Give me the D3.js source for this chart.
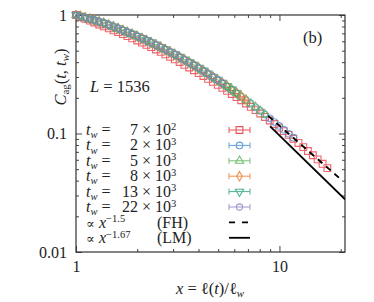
<!DOCTYPE html>
<html>
<head>
<meta charset="utf-8">
<script src="https://cdn.jsdelivr.net/npm/d3@7"></script>
<style>
  body { margin: 0; background: #fff; }
  text { font-family: 'Liberation Serif', 'DejaVu Serif', serif; fill: #222; }
</style>
</head>
<body>
<svg id="chart" width="374" height="302"></svg>
<script>
// x = l(t)/l_w, shared grid, each series stops where its run ends
const xGrid = [1.00, 1.05, 1.11, 1.17, 1.23, 1.30, 1.37, 1.45, 1.53, 1.61, 1.70, 1.79, 1.89, 2.00, 2.11, 2.22,
  2.34, 2.47, 2.61, 2.75, 2.90, 3.06, 3.23, 3.41, 3.60, 3.80, 4.01, 4.23, 4.46, 4.71, 4.97, 5.24, 5.53, 5.83,
  6.15, 6.49, 6.85, 7.23, 7.63, 8.05, 8.49, 8.96, 9.45, 9.97, 10.5, 11.1, 11.7, 12.4, 13.1, 13.8, 14.6, 15.4,
  16.3, 17.2];

const tw700 = [1.000, 0.967, 0.930, 0.896, 0.865, 0.832, 0.802, 0.771, 0.743, 0.717, 0.689, 0.663, 0.636, 0.609,
  0.584, 0.560, 0.536, 0.512, 0.488, 0.466, 0.444, 0.422, 0.401, 0.380, 0.361, 0.342, 0.3235, 0.306, 0.289,
  0.2725, 0.257, 0.2427, 0.2288, 0.2157, 0.2030, 0.1909, 0.1792, 0.1680, 0.1574, 0.1474, 0.1379, 0.1288,
  0.1203, 0.1122, 0.1048, 0.0973, 0.0903, 0.0832, 0.0768, 0.0712, 0.0655, 0.0605, 0.0555, 0.0510];
const tw2k = [1.000, 0.978, 0.952, 0.927, 0.904, 0.875, 0.850, 0.820, 0.792, 0.766, 0.739, 0.712, 0.685, 0.658,
  0.631, 0.607, 0.582, 0.557, 0.531, 0.508, 0.484, 0.462, 0.439, 0.417, 0.396, 0.375, 0.3546, 0.3354, 0.3170,
  0.2981, 0.2811, 0.2643, 0.2486, 0.2333, 0.2186, 0.2045, 0.1911, 0.1784, 0.1664, 0.1550, 0.1445, 0.1342,
  0.1249, 0.1159, 0.1077, 0.0995, 0.0922];
const tw5k = [1.000, 0.978, 0.953, 0.929, 0.906, 0.878, 0.854, 0.824, 0.796, 0.770, 0.743, 0.716, 0.689, 0.662,
  0.635, 0.611, 0.586, 0.561, 0.535, 0.511, 0.487, 0.465, 0.441, 0.420, 0.398, 0.377, 0.3567, 0.3374, 0.3189,
  0.3000, 0.2828, 0.2659, 0.2501, 0.2347, 0.2199, 0.2057, 0.1922, 0.1795, 0.1674, 0.1559, 0.1453];
const tw8k = [1.000, 0.979, 0.954, 0.931, 0.909, 0.881, 0.857, 0.827, 0.799, 0.773, 0.746, 0.719, 0.692, 0.665,
  0.638, 0.613, 0.588, 0.563, 0.536, 0.513, 0.489, 0.467, 0.443, 0.421, 0.400, 0.379, 0.358, 0.3388, 0.3202,
  0.3011, 0.2839, 0.2669, 0.2511, 0.2356, 0.2208, 0.2065, 0.1930];
const tw13k = [1.000, 0.979, 0.955, 0.932, 0.910, 0.883, 0.859, 0.829, 0.801, 0.775, 0.748, 0.721, 0.694, 0.667,
  0.640, 0.615, 0.590, 0.565, 0.538, 0.515, 0.490, 0.468, 0.444, 0.422, 0.401, 0.380, 0.359, 0.3398, 0.3211,
  0.3021, 0.2848, 0.2677, 0.2518, 0.2363, 0.2214];
const tw22k = [1.000, 0.980, 0.956, 0.933, 0.912, 0.885, 0.861, 0.831, 0.803, 0.777, 0.750, 0.723, 0.696, 0.668,
  0.641, 0.617, 0.591, 0.566, 0.539, 0.516, 0.492, 0.469, 0.446, 0.424, 0.402, 0.381, 0.360, 0.3407, 0.3221,
  0.3030, 0.2856, 0.2685];

const seriesValues = [tw700, tw2k, tw5k, tw8k, tw13k, tw22k];
const twMantissa = ['7', '2', '5', '8', '13', '22'];
const twExponent = ['2', '3', '3', '3', '3', '3'];
const seriesColors = ['#e8333b', '#4a8fd1', '#5bb55b', '#ee7d2d', '#2fa57c', '#8c86c8'];
const seriesSymbols = ['square', 'circle', 'triangle', 'diamond', 'triangleDown', 'pentagon'];

// power laws: amplitude, exponent, x range
const fhLaw = { amp: 3.68, exponent: -1.5, from: 8.8, to: 19.6 };
const lmLaw = { amp: 4.5, exponent: -1.67, from: 9.0, to: 21 };

const xMajor = [1, 10], xMinor = [2, 3, 4, 5, 6, 7, 8, 9, 20];
const yMajor = [0.01, 0.1, 1];
const yMinor = [0.02, 0.03, 0.04, 0.05, 0.06, 0.07, 0.08, 0.09, 0.2, 0.3, 0.4, 0.5, 0.6, 0.7, 0.8, 0.9];

let svg = d3.select('#chart');
let plot = { left: 76, right: 345, top: 15, bottom: 252 };

let x = d3.scaleLog().domain([1, 21]).range([plot.left, plot.right]);
let y = d3.scaleLog().domain([0.01, 1]).range([plot.bottom, plot.top]);

// ticks point inward on all four sides
function drawTicks(axisFn, scale, values, size, transform, labels) {
  let g = svg.append('g').attr('transform', transform)
    .call(axisFn(scale).tickValues(values).tickSizeInner(-size).tickSizeOuter(0).tickPadding(9)
      .tickFormat(labels ? d => String(d) : () => ''));
  g.select('.domain').remove();
  g.selectAll('line').attr('stroke', '#444');
  g.selectAll('text').style('font-size', '16px').style('font-family', "'Liberation Serif', serif").attr('fill', '#222');
  return g;
}

drawTicks(d3.axisBottom, x, xMajor, 6, `translate(0,${plot.bottom})`, true);
drawTicks(d3.axisBottom, x, xMinor, 3, `translate(0,${plot.bottom})`, false);
drawTicks(d3.axisTop, x, xMajor, 6, `translate(0,${plot.top})`, false);
drawTicks(d3.axisTop, x, xMinor, 3, `translate(0,${plot.top})`, false);
drawTicks(d3.axisLeft, y, yMajor, 6, `translate(${plot.left},0)`, true);
drawTicks(d3.axisLeft, y, yMinor, 3, `translate(${plot.left},0)`, false);
drawTicks(d3.axisRight, y, yMajor, 6, `translate(${plot.right},0)`, false);
drawTicks(d3.axisRight, y, yMinor, 3, `translate(${plot.right},0)`, false);

svg.append('rect')
  .attr('x', plot.left).attr('y', plot.top)
  .attr('width', plot.right - plot.left).attr('height', plot.bottom - plot.top)
  .attr('fill', 'none').attr('stroke', '#333').attr('stroke-width', 1.2);

let symbolPath = {
  square: d3.symbol().type(d3.symbolSquare).size(46)(),
  circle: d3.symbol().type(d3.symbolCircle).size(34)(),
  triangle: d3.symbol().type(d3.symbolTriangle).size(30)(),
  diamond: d3.symbol().type(d3.symbolDiamond).size(26)(),
  triangleDown: d3.symbol().type(d3.symbolTriangle).size(30)(),
  pentagon: d3.symbol().type(d3.symbolCircle).size(30)()
};

function marker(g, kind, color) {
  return g.append('path')
    .attr('d', symbolPath[kind])
    .attr('transform', kind === 'triangleDown' ? 'rotate(180)' : null)
    .attr('fill', 'none')
    .attr('stroke', color)
    .attr('stroke-width', 1.1);
}

svg.append('clipPath').attr('id', 'clip').append('rect')
  .attr('x', plot.left - 5).attr('y', plot.top - 5)
  .attr('width', plot.right - plot.left + 5).attr('height', plot.bottom - plot.top + 5);

let dataLayer = svg.append('g').attr('clip-path', 'url(#clip)');

seriesValues.forEach((vals, i) => {
  let pts = vals.map((v, k) => ({ x: xGrid[k], y: v }));
  let g = dataLayer.append('g').attr('opacity', 0.75);
  pts.forEach(p => {
    let m = g.append('g').attr('transform', `translate(${x(p.x)},${y(p.y)})`);
    marker(m, seriesSymbols[i], seriesColors[i]);
  });
});

// power-law guides
[fhLaw, lmLaw].forEach((law, i) => {
  let xs = [law.from, law.to];
  dataLayer.append('line')
    .attr('x1', x(xs[0])).attr('y1', y(law.amp * Math.pow(xs[0], law.exponent)))
    .attr('x2', x(xs[1])).attr('y2', y(law.amp * Math.pow(xs[1], law.exponent)))
    .attr('stroke', '#000')
    .attr('stroke-width', 1.8)
    .attr('stroke-dasharray', i === 0 ? '6,5' : null);
});

// text with sub/superscripts built from tspans
function mathText(parent, px, py, parts, size, anchor) {
  let t = parent.append('text').attr('x', px).attr('y', py)
    .style('font-size', size + 'px')
    .attr('text-anchor', anchor || 'start');
  let shift = 0;
  parts.forEach(p => {
    let target = p.sub ? size * 0.2 : p.sup ? -size * 0.34 : 0;
    let s = t.append('tspan').text(p.t).attr('dy', target - shift);
    shift = target;
    if (p.sub || p.sup) s.style('font-size', (size * 0.66) + 'px');
    if (p.i) s.style('font-style', 'italic');
  });
  return t;
}

let fs = 16;

// legend
let rowY0 = 130, rowStep = 15.4, sampleX = 239.5;
seriesValues.forEach((vals, i) => {
  let cy = rowY0 + i * rowStep, base = cy + 5;
  mathText(svg, 86, base, [{ t: 't', i: true }, { t: 'w', i: true, sub: true }, { t: ' =' }], fs);
  mathText(svg, 138, base, [{ t: twMantissa[i] }], fs, 'end');
  mathText(svg, 142, base, [{ t: '× 10' }, { t: twExponent[i], sup: true }], fs);
  let g = svg.append('g').attr('transform', `translate(${sampleX},${cy})`).attr('opacity', 0.85);
  g.append('path')
    .attr('d', 'M-10.5,0H10.5M-10.5,-3V3M10.5,-3V3')
    .attr('stroke', seriesColors[i]).attr('stroke-width', 1).attr('fill', 'none');
  marker(g, seriesSymbols[i], seriesColors[i]);
});

let lawLabels = [['−1.5', '(FH)'], ['−1.67', '(LM)']];
lawLabels.forEach((lab, i) => {
  let cy = rowY0 + (6 + i) * rowStep, base = cy + 5.5;
  // proportional-to sign drawn on its own, the serif face lacks it
  svg.append('text').attr('x', 86).attr('y', base)
    .style('font-family', "'DejaVu Serif', serif").style('font-size', '13px').text('∝');
  mathText(svg, 99, base, [{ t: 'x', i: true }, { t: lab[0], sup: true }], fs);
  mathText(svg, 157, base, [{ t: lab[1] }], fs);
  svg.append('line')
    .attr('x1', sampleX - 10.5).attr('x2', sampleX + 10.5).attr('y1', cy).attr('y2', cy)
    .attr('stroke', '#000').attr('stroke-width', 1.8)
    .attr('stroke-dasharray', i === 0 ? '6,7' : null);
});

mathText(svg, 90, 92, [{ t: 'L', i: true }, { t: ' = 1536' }], 16.5);
mathText(svg, 303, 43, [{ t: '(b)' }], 16.5);

// axis titles
mathText(svg, 210, 294, [{ t: 'x', i: true }, { t: ' = ℓ(' }, { t: 't', i: true }, { t: ')/ℓ' }, { t: 'w', i: true, sub: true }], 16.5, 'middle');

let yl = svg.append('g').attr('transform', 'translate(66,77) rotate(-90)');
mathText(yl, 0, 0, [{ t: 'C', i: true }, { t: 'ag', sub: true }, { t: '(' }, { t: 't', i: true }, { t: ', ' },
  { t: 't', i: true }, { t: 'w', i: true, sub: true }, { t: ')' }], 16.5, 'middle');
</script>
</body>
</html>
